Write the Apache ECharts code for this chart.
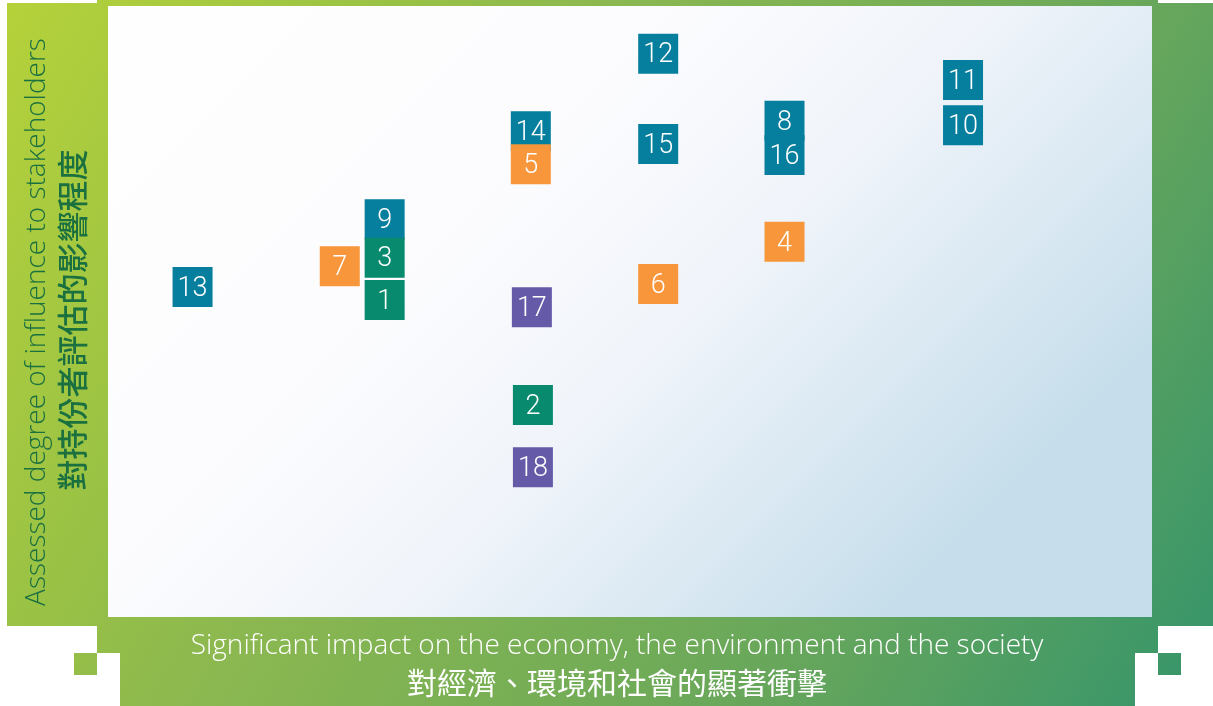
<!DOCTYPE html>
<html>
<head>
<meta charset="utf-8">
<script src="https://cdn.jsdelivr.net/npm/echarts@6/dist/echarts.min.js"></script>
<style>
  html, body { margin: 0; padding: 0; background: #ffffff; }
  #chart { width: 1213px; height: 706px; }
</style>
</head>
<body>
<div id="chart"></div>
<script>
// issue numbers and their positions (0-100 on both axes), grouped by colour
const blueIds = ['13', '9', '14', '12', '15', '8', '16', '11', '10']
const blueX = [8.1, 26.5, 40.5, 52.7, 52.7, 64.8, 64.8, 81.9, 81.9]
const blueY = [54.0, 65.1, 79.5, 92.2, 77.4, 81.2, 75.6, 87.9, 80.5]

const greenIds = ['3', '1', '2']
const greenX = [26.5, 26.5, 40.7]
const greenY = [58.8, 51.9, 34.7]

const purpleIds = ['17', '18']
const purpleX = [40.6, 40.7]
const purpleY = [50.7, 24.5]

const orangeIds = ['7', '5', '6', '4']
const orangeX = [22.2, 40.5, 52.7, 64.8]
const orangeY = [57.4, 74.1, 54.5, 61.4]

const yTitleEn = 'Assessed degree of influence to stakeholders'
const yTitleZh = '對持份者評估的影響程度'
const xTitleEn = 'Significant impact on the economy, the environment and the society'
const xTitleZh = '對經濟、環境和社會的顯著衝擊'

const chart = echarts.init(document.getElementById('chart'))

const frameGradient = {
  type: 'linear', global: true,
  x: 0, y: 0, x2: 1213, y2: 706,
  colorStops: [
    { offset: 0, color: '#b6d23a' },
    { offset: 0.25, color: '#98c145' },
    { offset: 0.37, color: '#8cb850' },
    { offset: 0.6, color: '#74ad56' },
    { offset: 0.73, color: '#66a65c' },
    { offset: 1, color: '#34946b' }
  ]
}

const plotGradient = {
  type: 'linear', global: true,
  x: 0, y: 0, x2: 750, y2: 750,
  colorStops: [
    { offset: 0, color: '#ffffff' },
    { offset: 0.45, color: '#fcfcfe' },
    { offset: 0.67, color: '#f0f4fa' },
    { offset: 1, color: '#c6deeb' }
  ]
}

const makeSeries = (ids, xs, ys, color) => ({
  type: 'scatter',
  symbol: 'rect',
  symbolSize: 40,
  itemStyle: { color: color, opacity: 1 },
  label: {
    show: true,
    position: 'inside',
    color: '#ffffff',
    fontFamily: 'Roboto',
    fontWeight: 300,
    fontSize: 27,
    offset: [0, 2],
    formatter: p => p.data[2]
  },
  emphasis: { disabled: true },
  data: ids.map((id, i) => [xs[i], ys[i], id])
})

const option = {
  animation: false,
  grid: { left: 108, top: 6, width: 1044, height: 611 },
  xAxis: { type: 'value', min: 0, max: 100, show: false },
  yAxis: { type: 'value', min: 0, max: 100, show: false },
  graphic: [
    {
      type: 'polygon',
      z: -10,
      shape: {
        points: [
          [97, 0], [1158, 0], [1158, 3], [1213, 3], [1213, 626], [1158, 626],
          [1158, 653], [1135, 653], [1135, 706], [120, 706], [120, 653],
          [97, 653], [97, 626], [7, 626], [7, 3], [97, 3]
        ]
      },
      style: { fill: frameGradient }
    },
    { type: 'rect', z: -10, shape: { x: 74, y: 653, width: 23, height: 22 }, style: { fill: frameGradient } },
    { type: 'rect', z: -10, shape: { x: 1158, y: 653, width: 23, height: 22 }, style: { fill: frameGradient } },
    { type: 'rect', z: -9, shape: { x: 108, y: 6, width: 1044, height: 611 }, style: { fill: plotGradient } },
    {
      type: 'text', z: -8, x: 37, y: 322, rotation: Math.PI / 2,
      style: {
        text: yTitleEn, fill: '#1b7040', fontFamily: 'Open Sans', fontWeight: 300, fontSize: 28,
        align: 'center', verticalAlign: 'middle'
      }
    },
    {
      type: 'text', z: -8, x: 72, y: 320, rotation: Math.PI / 2,
      style: {
        text: yTitleZh, fill: '#1b7040', fontFamily: 'Noto Sans CJK TC', fontWeight: 500, fontSize: 31,
        align: 'center', verticalAlign: 'middle'
      }
    },
    {
      type: 'text', z: -8, x: 617, y: 646,
      style: {
        text: xTitleEn, fill: '#ffffff', fontFamily: 'Open Sans', fontWeight: 300, fontSize: 28,
        align: 'center', verticalAlign: 'middle'
      }
    },
    {
      type: 'text', z: -8, x: 617, y: 683,
      style: {
        text: xTitleZh, fill: '#ffffff', fontFamily: 'Noto Sans CJK TC', fontWeight: 400, fontSize: 30,
        align: 'center', verticalAlign: 'middle'
      }
    }
  ],
  series: [
    makeSeries(blueIds, blueX, blueY, '#067e9e'),
    makeSeries(greenIds, greenX, greenY, '#078a6e'),
    makeSeries(purpleIds, purpleX, purpleY, '#645aa8'),
    makeSeries(orangeIds, orangeX, orangeY, '#f7963a')
  ]
}

chart.setOption(option)
window.addEventListener('resize', () => chart.resize())
</script>
</body>
</html>
